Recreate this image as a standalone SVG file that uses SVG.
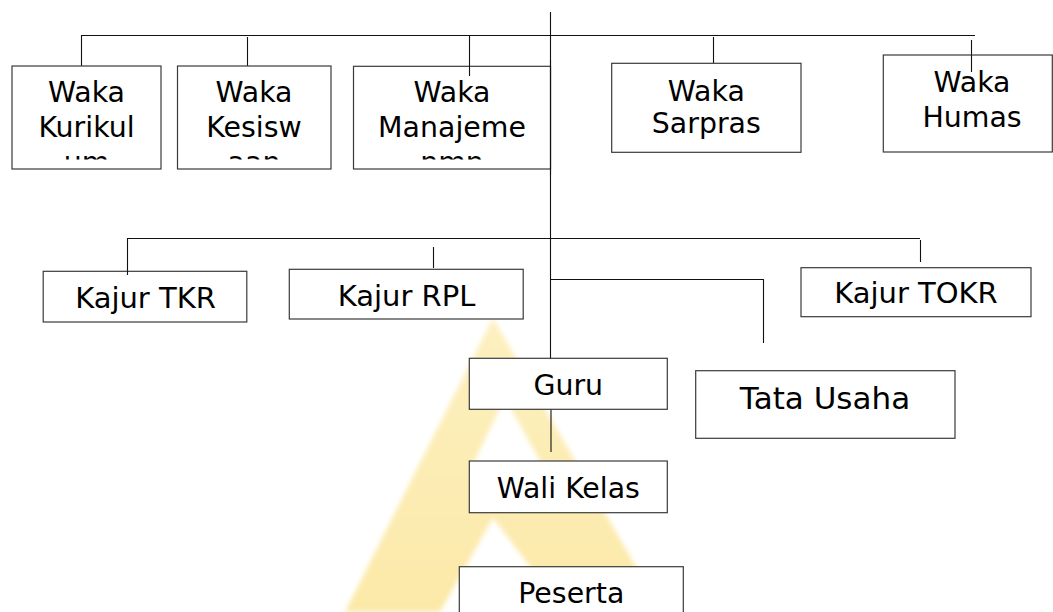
<svg xmlns="http://www.w3.org/2000/svg" width="1053" height="612" viewBox="0 0 1053 612">
<style>
.box{fill:#fff;stroke:#3a3a3a;stroke-width:1.2}
.t{font-family:"DejaVu Sans",sans-serif;font-size:28.4px;fill:#000;text-anchor:middle}
.k{font-size:29px}
.big{font-size:31px}
.c{fill:none;stroke:#111;stroke-width:1.1}
</style>
<defs>
<filter id="blur" x="-10%" y="-10%" width="120%" height="120%"><feGaussianBlur stdDeviation="2.5"/></filter>
<linearGradient id="wm" x1="0" y1="0" x2="0" y2="1">
<stop offset="0" stop-color="#fdf0c0"/>
<stop offset="1" stop-color="#fce9a8"/>
</linearGradient>
<clipPath id="clipA"><rect x="0" y="0" width="560" height="159.5"/></clipPath>
</defs>
<rect width="1053" height="612" fill="#fff"/>
<g id="watermark" filter="url(#blur)">
<path d="M493,318 L345,612 L662,612 Z M505,398 L470,470 L545,470 Z M493,518 L440,612 L565,612 Z" fill="url(#wm)" fill-rule="evenodd"/>
</g>
<g id="connectors">
<line class="c" x1="550.5" y1="12" x2="550.5" y2="358"/>
<line class="c" x1="81" y1="35.5" x2="975" y2="35.5"/>
<line class="c" x1="81.5" y1="35" x2="81.5" y2="66"/>
<line class="c" x1="247.5" y1="37" x2="247.5" y2="66"/>
<line class="c" x1="469.5" y1="35" x2="469.5" y2="76"/>
<line class="c" x1="713.5" y1="37" x2="713.5" y2="63"/>
<line class="c" x1="971.5" y1="40" x2="971.5" y2="72"/>
<line class="c" x1="127" y1="238.5" x2="920" y2="238.5"/>
<line class="c" x1="127.5" y1="238" x2="127.5" y2="275"/>
<line class="c" x1="433.5" y1="247" x2="433.5" y2="268"/>
<line class="c" x1="920.5" y1="240" x2="920.5" y2="262"/>
<polyline class="c" points="550.5,279.5 763.5,279.5 763.5,343"/>
<line class="c" x1="551" y1="409" x2="551" y2="452"/>
</g>
<g id="waka-kurikulum">
<rect class="box" x="12" y="66" width="149" height="103"/>
<text class="t" clip-path="url(#clipA)" x="86.5"><tspan x="86.5" y="101.7">Waka</tspan><tspan x="86.5" y="136.7">Kurikul</tspan><tspan x="86.5" y="171.7">um</tspan></text>
</g>
<g id="waka-kesiswaan">
<rect class="box" x="177.5" y="66" width="153.5" height="103"/>
<text class="t" clip-path="url(#clipA)" x="254"><tspan x="254" y="101.7">Waka</tspan><tspan x="254" y="136.7">Kesisw</tspan><tspan x="254" y="171.7">aan</tspan></text>
</g>
<g id="waka-manajemen">
<rect class="box" x="353.5" y="66.3" width="197" height="102.7"/>
<text class="t" clip-path="url(#clipA)" x="452"><tspan x="452" y="101.7">Waka</tspan><tspan x="452" y="136.7">Manajeme</tspan><tspan x="452" y="171.7">nmn</tspan></text>
</g>
<line class="c" x1="469.5" y1="66" x2="469.5" y2="76"/>
<line class="c" x1="550.5" y1="60" x2="550.5" y2="175"/>
<g id="waka-sarpras">
<rect class="box" x="611.7" y="63.3" width="189.3" height="89"/>
<text class="t"><tspan x="706.3" y="100.7">Waka</tspan><tspan x="706.3" y="132.7">Sarpras</tspan></text>
</g>
<g id="waka-humas">
<rect class="box" x="883.3" y="55" width="169" height="97"/>
<text class="t"><tspan x="972" y="92.4">Waka</tspan><tspan x="972" y="127.4">Humas</tspan></text>
</g>
<line class="c" x1="971.5" y1="55" x2="971.5" y2="72"/>
<g id="kajur-tkr">
<rect class="box" x="43.2" y="271.3" width="203.6" height="50.7"/>
<text class="t k" x="145.5" y="308.3">Kajur TKR</text>
</g>
<line class="c" x1="127.5" y1="271" x2="127.5" y2="275"/>
<g id="kajur-rpl">
<rect class="box" x="289.3" y="269.3" width="233.9" height="49.7"/>
<text class="t k" x="406.5" y="306">Kajur RPL</text>
</g>
<g id="kajur-tokr">
<rect class="box" x="801" y="267.7" width="230" height="49"/>
<text class="t k" x="916" y="303.3">Kajur TOKR</text>
</g>
<g id="tata-usaha">
<rect class="box" x="695.7" y="370.7" width="259.3" height="67.6"/>
<text class="t big" x="825" y="409.3">Tata Usaha</text>
</g>
<g id="guru">
<rect class="box" x="469.3" y="358.3" width="198" height="51"/>
<text class="t" x="568.3" y="395">Guru</text>
</g>
<g id="wali-kelas">
<rect class="box" x="469.3" y="461" width="198" height="51.7"/>
<text class="t" x="568.3" y="497.7">Wali Kelas</text>
</g>
<g id="peserta">
<rect class="box" x="459.3" y="566.7" width="224" height="60"/>
<text class="t" x="571.3" y="602.7">Peserta</text>
</g>
</svg>
